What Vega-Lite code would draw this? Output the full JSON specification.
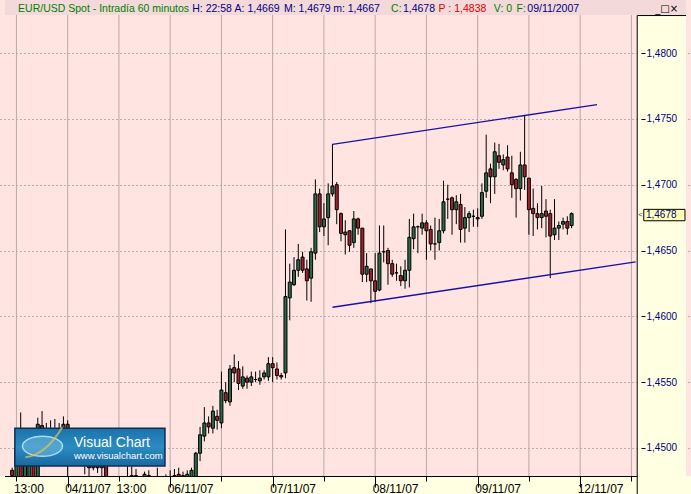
{
"$schema": "https://vega.github.io/schema/vega-lite/v6.json",
"width": 691, "height": 476,
"autosize": {"type": "none"},
"padding": {"left": 0, "top": 0, "right": 0, "bottom": 18},
"background": "#FFFFE1",
"config": {"view": {"fill": "#FFE4E1", "stroke": null}},
"datasets": {
"vgrid": [{"n":0},{"n":12},{"n":24},{"n":36},{"n":48},{"n":60},{"n":72},{"n":84},{"n":96},{"n":108},{"n":120},{"n":132},{"n":144}],
"candles": [
{"n":-1,"o":1.4483,"h":1.4485,"l":1.4475,"c":1.4479},
{"n":0,"o":1.4472,"h":1.4505,"l":1.4470,"c":1.4500},
{"n":1,"o":1.4505,"h":1.4527,"l":1.4470,"c":1.4474},
{"n":2,"o":1.4474,"h":1.4505,"l":1.4470,"c":1.4498},
{"n":3,"o":1.4478,"h":1.4510,"l":1.4472,"c":1.4505},
{"n":4,"o":1.4505,"h":1.4510,"l":1.4470,"c":1.4476},
{"n":5,"o":1.4476,"h":1.4523,"l":1.4472,"c":1.4518},
{"n":6,"o":1.4517,"h":1.4528,"l":1.4495,"c":1.4505},
{"n":7,"o":1.4505,"h":1.4519,"l":1.4490,"c":1.4500},
{"n":8,"o":1.4500,"h":1.4521,"l":1.4495,"c":1.4506},
{"n":9,"o":1.4506,"h":1.4522,"l":1.4496,"c":1.4502},
{"n":10,"o":1.4502,"h":1.4519,"l":1.4497,"c":1.4505},
{"n":11,"o":1.4495,"h":1.4524,"l":1.4490,"c":1.4518},
{"n":12,"o":1.4518,"h":1.4521,"l":1.4478,"c":1.4492},
{"n":13,"o":1.4492,"h":1.4505,"l":1.4488,"c":1.4500},
{"n":14,"o":1.4500,"h":1.4506,"l":1.4490,"c":1.4496},
{"n":15,"o":1.4496,"h":1.4503,"l":1.4489,"c":1.4493},
{"n":16,"o":1.4493,"h":1.4500,"l":1.4480,"c":1.4491},
{"n":17,"o":1.4491,"h":1.4496,"l":1.4478,"c":1.4485},
{"n":18,"o":1.4485,"h":1.4494,"l":1.4483,"c":1.4490},
{"n":19,"o":1.4490,"h":1.4493,"l":1.4481,"c":1.4485},
{"n":20,"o":1.4485,"h":1.4495,"l":1.4478,"c":1.4488},
{"n":21,"o":1.4488,"h":1.4494,"l":1.4470,"c":1.4474},
{"n":22,"o":1.4474,"h":1.4477,"l":1.4460,"c":1.4466},
{"n":23,"o":1.4466,"h":1.4472,"l":1.4455,"c":1.4462},
{"n":24,"o":1.4462,"h":1.4475,"l":1.4458,"c":1.4468},
{"n":25,"o":1.4468,"h":1.4476,"l":1.4460,"c":1.4466},
{"n":26,"o":1.4466,"h":1.4486,"l":1.4460,"c":1.4470},
{"n":27,"o":1.4470,"h":1.4487,"l":1.4465,"c":1.4479},
{"n":28,"o":1.4479,"h":1.4484,"l":1.4468,"c":1.4472},
{"n":29,"o":1.4472,"h":1.4476,"l":1.4462,"c":1.4470},
{"n":30,"o":1.4470,"h":1.4482,"l":1.4465,"c":1.4480},
{"n":31,"o":1.4479,"h":1.4483,"l":1.4468,"c":1.4474},
{"n":32,"o":1.4474,"h":1.4477,"l":1.4464,"c":1.4470},
{"n":33,"o":1.4470,"h":1.4485,"l":1.4465,"c":1.4473},
{"n":34,"o":1.4473,"h":1.4477,"l":1.4466,"c":1.4471},
{"n":35,"o":1.4471,"h":1.4480,"l":1.4467,"c":1.4474},
{"n":36,"o":1.4474,"h":1.4483,"l":1.4466,"c":1.4472},
{"n":37,"o":1.4472,"h":1.4484,"l":1.4468,"c":1.4479},
{"n":38,"o":1.4480,"h":1.4485,"l":1.4470,"c":1.4476},
{"n":39,"o":1.4476,"h":1.4482,"l":1.4472,"c":1.4479},
{"n":40,"o":1.4478,"h":1.4483,"l":1.4474,"c":1.4480},
{"n":41,"o":1.4476,"h":1.4485,"l":1.4472,"c":1.4483},
{"n":42,"o":1.4477,"h":1.4497,"l":1.4474,"c":1.4496},
{"n":43,"o":1.4496,"h":1.4516,"l":1.4490,"c":1.4510},
{"n":44,"o":1.4509,"h":1.4531,"l":1.4505,"c":1.4519},
{"n":45,"o":1.4519,"h":1.4524,"l":1.4511,"c":1.4516},
{"n":46,"o":1.4515,"h":1.4532,"l":1.4511,"c":1.4528},
{"n":47,"o":1.4524,"h":1.4529,"l":1.4514,"c":1.4521},
{"n":48,"o":1.4519,"h":1.4558,"l":1.4515,"c":1.4544},
{"n":49,"o":1.4542,"h":1.4550,"l":1.4534,"c":1.4536},
{"n":50,"o":1.4535,"h":1.4563,"l":1.4532,"c":1.4560},
{"n":51,"o":1.4561,"h":1.4571,"l":1.4550,"c":1.4557},
{"n":52,"o":1.4560,"h":1.4566,"l":1.4544,"c":1.4549},
{"n":53,"o":1.4547,"h":1.4562,"l":1.4545,"c":1.4554},
{"n":54,"o":1.4553,"h":1.4555,"l":1.4545,"c":1.4550},
{"n":55,"o":1.4550,"h":1.4558,"l":1.4547,"c":1.4554},
{"n":56,"o":1.4552,"h":1.4558,"l":1.4550,"c":1.4552},
{"n":57,"o":1.4551,"h":1.4559,"l":1.4548,"c":1.4553},
{"n":58,"o":1.4554,"h":1.4559,"l":1.4552,"c":1.4557},
{"n":59,"o":1.4554,"h":1.4569,"l":1.4551,"c":1.4564},
{"n":60,"o":1.4564,"h":1.4569,"l":1.4550,"c":1.4561},
{"n":61,"o":1.4560,"h":1.4565,"l":1.4552,"c":1.4555},
{"n":62,"o":1.4555,"h":1.4557,"l":1.4552,"c":1.4554},
{"n":63,"o":1.4557,"h":1.4666,"l":1.4553,"c":1.4615},
{"n":64,"o":1.4614,"h":1.4640,"l":1.4597,"c":1.4626},
{"n":65,"o":1.4624,"h":1.4645,"l":1.4623,"c":1.4635},
{"n":66,"o":1.4635,"h":1.4655,"l":1.4630,"c":1.4643},
{"n":67,"o":1.4645,"h":1.4649,"l":1.4633,"c":1.4635},
{"n":68,"o":1.4636,"h":1.4643,"l":1.4612,"c":1.4627},
{"n":69,"o":1.4629,"h":1.4652,"l":1.4611,"c":1.4649},
{"n":70,"o":1.4648,"h":1.4704,"l":1.4643,"c":1.4693},
{"n":71,"o":1.4693,"h":1.4697,"l":1.4664,"c":1.4668},
{"n":72,"o":1.4668,"h":1.4686,"l":1.4661,"c":1.4674},
{"n":73,"o":1.4675,"h":1.4701,"l":1.4654,"c":1.4693},
{"n":74,"o":1.4693,"h":1.4731,"l":1.4691,"c":1.4699},
{"n":75,"o":1.4700,"h":1.4702,"l":1.4670,"c":1.4681},
{"n":76,"o":1.4678,"h":1.4679,"l":1.4657,"c":1.4663},
{"n":77,"o":1.4662,"h":1.4673,"l":1.4647,"c":1.4664},
{"n":78,"o":1.4665,"h":1.4665,"l":1.4649,"c":1.4654},
{"n":79,"o":1.4656,"h":1.4680,"l":1.4652,"c":1.4674},
{"n":80,"o":1.4674,"h":1.4675,"l":1.4662,"c":1.4667},
{"n":81,"o":1.4667,"h":1.4667,"l":1.4626,"c":1.4632},
{"n":82,"o":1.4632,"h":1.4648,"l":1.4626,"c":1.4638},
{"n":83,"o":1.4636,"h":1.4636,"l":1.4610,"c":1.4627},
{"n":84,"o":1.4627,"h":1.4648,"l":1.4611,"c":1.4619},
{"n":85,"o":1.4620,"h":1.4669,"l":1.4619,"c":1.4648},
{"n":86,"o":1.4649,"h":1.4669,"l":1.4641,"c":1.4649},
{"n":87,"o":1.4650,"h":1.4652,"l":1.4624,"c":1.4640},
{"n":88,"o":1.4640,"h":1.4643,"l":1.4630,"c":1.4632},
{"n":89,"o":1.4633,"h":1.4640,"l":1.4627,"c":1.4633},
{"n":90,"o":1.4631,"h":1.4638,"l":1.4623,"c":1.4627},
{"n":91,"o":1.4627,"h":1.4643,"l":1.4621,"c":1.4635},
{"n":92,"o":1.4635,"h":1.4674,"l":1.4622,"c":1.4660},
{"n":93,"o":1.4659,"h":1.4678,"l":1.4651,"c":1.4668},
{"n":94,"o":1.4668,"h":1.4669,"l":1.4648,"c":1.4668},
{"n":95,"o":1.4667,"h":1.4678,"l":1.4662,"c":1.4671},
{"n":96,"o":1.4671,"h":1.4673,"l":1.4643,"c":1.4665},
{"n":97,"o":1.4666,"h":1.4669,"l":1.4650,"c":1.4655},
{"n":98,"o":1.4655,"h":1.4675,"l":1.4643,"c":1.4655},
{"n":99,"o":1.4656,"h":1.4674,"l":1.4650,"c":1.4665},
{"n":100,"o":1.4665,"h":1.4703,"l":1.4663,"c":1.4687},
{"n":101,"o":1.4689,"h":1.4700,"l":1.4674,"c":1.4689},
{"n":102,"o":1.4690,"h":1.4691,"l":1.4662,"c":1.4681},
{"n":103,"o":1.4681,"h":1.4692,"l":1.4670,"c":1.4687},
{"n":104,"o":1.4685,"h":1.4693,"l":1.4656,"c":1.4666},
{"n":105,"o":1.4667,"h":1.4683,"l":1.4656,"c":1.4675},
{"n":106,"o":1.4675,"h":1.4680,"l":1.4664,"c":1.4678},
{"n":107,"o":1.4676,"h":1.4681,"l":1.4668,"c":1.4676},
{"n":108,"o":1.4675,"h":1.4682,"l":1.4668,"c":1.4674},
{"n":109,"o":1.4676,"h":1.4701,"l":1.4674,"c":1.4694},
{"n":110,"o":1.4695,"h":1.4738,"l":1.4690,"c":1.4709},
{"n":111,"o":1.4712,"h":1.4716,"l":1.4686,"c":1.4706},
{"n":112,"o":1.4706,"h":1.4732,"l":1.4693,"c":1.4725},
{"n":113,"o":1.4722,"h":1.4731,"l":1.4712,"c":1.4717},
{"n":114,"o":1.4715,"h":1.4723,"l":1.4711,"c":1.4719},
{"n":115,"o":1.4721,"h":1.4730,"l":1.4710,"c":1.4712},
{"n":116,"o":1.4709,"h":1.4722,"l":1.4690,"c":1.4700},
{"n":117,"o":1.4704,"h":1.4705,"l":1.4675,"c":1.4697},
{"n":118,"o":1.4697,"h":1.4725,"l":1.4688,"c":1.4715},
{"n":119,"o":1.4715,"h":1.4753,"l":1.4696,"c":1.4706},
{"n":120,"o":1.4705,"h":1.4705,"l":1.4662,"c":1.4681},
{"n":121,"o":1.4682,"h":1.4697,"l":1.4661,"c":1.4678},
{"n":122,"o":1.4678,"h":1.4686,"l":1.4666,"c":1.4675},
{"n":123,"o":1.4675,"h":1.4699,"l":1.4667,"c":1.4678},
{"n":124,"o":1.4680,"h":1.4689,"l":1.4660,"c":1.4676},
{"n":125,"o":1.4678,"h":1.4681,"l":1.4629,"c":1.4661},
{"n":126,"o":1.4662,"h":1.4689,"l":1.4658,"c":1.4667},
{"n":127,"o":1.4667,"h":1.4672,"l":1.4658,"c":1.4669},
{"n":128,"o":1.4670,"h":1.4675,"l":1.4666,"c":1.4672},
{"n":129,"o":1.4672,"h":1.4676,"l":1.4662,"c":1.4667},
{"n":130,"o":1.4669,"h":1.4679,"l":1.4667,"c":1.4678}
],
"channel": [
{"g":"upper","n":74,"p":1.47307},
{"g":"upper","n":135.95,"p":1.47608},
{"g":"lower","n":74,"p":1.46069},
{"g":"lower","n":145.0,"p":1.46413}
]
},
"layer": [
{
"data": {"name": "vgrid"},
"mark": {"type": "rule", "color": "#B9A9A9", "strokeWidth": 1, "clip": true},
"encoding": {
"x": {"field": "n", "type": "quantitative", "title": null,
"scale": {"domain": [-2.677, 156.785], "nice": false, "zero": false},
"axis": {"orient": "bottom", "values": [0,12,24,36,48,60,72,84,96,108,120,132,144],
"labelExpr": "datum.value == 0 || datum.value == 24 ? '13:00' : datum.value == 12 ? '04/11/07' : datum.value == 36 ? '06/11/07' : datum.value == 60 ? '07/11/07' : datum.value == 84 ? '08/11/07' : datum.value == 108 ? '09/11/07' : datum.value == 132 ? '12/11/07' : ''",
"grid": false,
"domain": false, "tickColor": "#000000", "tickWidth": 1,
"tickSize": {"condition": {"test": "indexof([12,36,60,84,108,132], datum.value) >= 0", "value": 11}, "value": 5},
"labelPadding": {"condition": {"test": "indexof([12,36,60,84,108,132], datum.value) >= 0", "value": -4}, "value": 2},
"labelAlign": "left", "labelBaseline": "top", "labelFont": "Liberation Sans", "labelFontSize": 12,
"labelColor": "#000000", "labelOffset": -3, "labelFlush": false, "labelOverlap": false, "labelBound": false,
"title": null, "zindex": 0}},
"y": {"datum": 1.44787, "type": "quantitative",
"scale": {"domain": [1.44787, 1.48403], "nice": false, "zero": false},
"axis": {"orient": "left", "values": [1.45,1.455,1.46,1.465,1.47,1.475,1.48],
"grid": true, "gridColor": "#7a7a7a", "gridDash": [1, 3], "gridWidth": 1,
"labels": false, "ticks": false, "domain": false, "title": null, "zindex": 0}},
"y2": {"datum": 1.48289}
}
},
{
"data": {"name": "candles"},
"mark": {"type": "rule", "color": "#000000", "strokeWidth": 1, "clip": true},
"encoding": {
"x": {"field": "n", "type": "quantitative", "title": null,
"scale": {"domain": [-2.677, 156.785], "nice": false, "zero": false}, "axis": null},
"y": {"field": "l", "type": "quantitative", "title": null,
"scale": {"domain": [1.44787, 1.48403], "nice": false, "zero": false}, "axis": null},
"y2": {"field": "h"}
}
},
{
"data": {"name": "candles"},
"mark": {"type": "bar", "width": 3, "stroke": "#000000", "strokeWidth": 1, "clip": true},
"encoding": {
"x": {"field": "n", "type": "quantitative", "title": null,
"scale": {"domain": [-2.677, 156.785], "nice": false, "zero": false}, "axis": null},
"y": {"field": "o", "type": "quantitative", "title": null,
"scale": {"domain": [1.44787, 1.48403], "nice": false, "zero": false},
"axis": {"orient": "right", "offset": -50, "values": [1.45,1.455,1.46,1.465,1.47,1.475,1.48],
"labelExpr": "replace(format(datum.value, '.4f'), '.', ',')",
"grid": false, "domain": false, "tickColor": "#000000", "tickSize": 4, "tickWidth": 1,
"labelFont": "Liberation Sans", "labelFontSize": 10, "labelColor": "#000080", "labelPadding": 1,
"labelBaseline": "middle", "labelFlush": false, "labelOverlap": false, "labelBound": false,
"title": null, "zindex": 1}},
"y2": {"field": "c"},
"fill": {"condition": {"test": "datum.c >= datum.o", "value": "#2B6A48"}, "value": "#A3212B"}
}
},
{
"data": {"name": "channel"},
"mark": {"type": "line", "color": "#1414A8", "strokeWidth": 1.3, "clip": true},
"encoding": {
"x": {"field": "n", "type": "quantitative", "title": null,
"scale": {"domain": [-2.677, 156.785], "nice": false, "zero": false}, "axis": null},
"y": {"field": "p", "type": "quantitative", "title": null,
"scale": {"domain": [1.44787, 1.48403], "nice": false, "zero": false}, "axis": null},
"detail": {"field": "g"}
}
},
{
"data": {"values": [{}]},
"mark": {"type": "rect", "fill": "#F3D9D9"},
"encoding": {
"x": {"datum": -2.677, "type": "quantitative", "scale": {"domain": [-2.677, 156.785], "nice": false, "zero": false}, "axis": null},
"x2": {"datum": 156.785},
"y": {"datum": 1.48289, "type": "quantitative", "scale": {"domain": [1.44787, 1.48403], "nice": false, "zero": false}, "axis": null},
"y2": {"datum": 1.48403}
}
},
{
"data": {"values": [{}]},
"mark": {"type": "rect", "fill": "#FFFFE1"},
"encoding": {
"x": {"datum": 145.36, "type": "quantitative", "scale": {"domain": [-2.677, 156.785], "nice": false, "zero": false}, "axis": null},
"x2": {"datum": 156.785},
"y": {"datum": 1.44787, "type": "quantitative", "scale": {"domain": [1.44787, 1.48403], "nice": false, "zero": false}, "axis": null},
"y2": {"datum": 1.48289}
}
},
{
"data": {"values": [{}]},
"mark": {"type": "rule", "color": "#000000", "strokeWidth": 1, "clip": false},
"encoding": {
"x": {"datum": -2.677, "type": "quantitative", "scale": {"domain": [-2.677, 156.785], "nice": false, "zero": false}, "axis": null},
"x2": {"datum": 145.36},
"y": {"datum": 1.44783, "type": "quantitative", "scale": {"domain": [1.44787, 1.48403], "nice": false, "zero": false}, "axis": null}
}
},
{
"data": {"values": [{}]},
"mark": {"type": "rule", "color": "#000000", "strokeWidth": 1, "clip": false},
"encoding": {
"x": {"datum": 145.36, "type": "quantitative", "scale": {"domain": [-2.677, 156.785], "nice": false, "zero": false}, "axis": null},
"y": {"datum": 1.44650, "type": "quantitative", "scale": {"domain": [1.44787, 1.48403], "nice": false, "zero": false}, "axis": null},
"y2": {"datum": 1.48285}
}
},
{
"data": {"values": [{}]},
"mark": {"type": "rule", "color": "#000000", "strokeWidth": 1, "clip": false},
"encoding": {
"x": {"datum": 145.36, "type": "quantitative", "scale": {"domain": [-2.677, 156.785], "nice": false, "zero": false}, "axis": null},
"x2": {"datum": 156.785},
"y": {"datum": 1.48285, "type": "quantitative", "scale": {"domain": [1.44787, 1.48403], "nice": false, "zero": false}, "axis": null}
}
},
{
"data": {"values": [{}]},
"mark": {"type": "rect", "fill": "#FFFFB8", "stroke": "#000000", "strokeWidth": 1},
"encoding": {
"x": {"datum": 146.9, "type": "quantitative", "scale": {"domain": [-2.677, 156.785], "nice": false, "zero": false}, "axis": null},
"x2": {"datum": 156.55},
"y": {"datum": 1.46726, "type": "quantitative", "scale": {"domain": [1.44787, 1.48403], "nice": false, "zero": false}, "axis": null},
"y2": {"datum": 1.468126}
}
},
{
"data": {"values": [{}]},
"mark": {"type": "text", "align": "left", "baseline": "middle", "font": "Liberation Sans", "fontSize": 10, "color": "#000080"},
"encoding": {
"x": {"datum": 147.4, "type": "quantitative", "scale": {"domain": [-2.677, 156.785], "nice": false, "zero": false}, "axis": null},
"y": {"datum": 1.46769, "type": "quantitative", "scale": {"domain": [1.44787, 1.48403], "nice": false, "zero": false}, "axis": null},
"text": {"value": "1,4678"}
}
},
{
"data": {"values": [{}]},
"mark": {"type": "text", "align": "left", "baseline": "middle", "font": "Liberation Sans", "fontSize": 8, "color": "#444444"},
"encoding": {
"x": {"datum": 145.6, "type": "quantitative", "scale": {"domain": [-2.677, 156.785], "nice": false, "zero": false}, "axis": null},
"y": {"datum": 1.46769, "type": "quantitative", "scale": {"domain": [1.44787, 1.48403], "nice": false, "zero": false}, "axis": null},
"text": {"value": "<"}
}
},
{
"data": {"values": [{}]},
"mark": {"type": "rect", "stroke": "#0C2F55", "strokeWidth": 1.5,
"fill": {"gradient": "linear", "x1": 0, "y1": 0, "x2": 0, "y2": 1, "stops": [{"offset": 0, "color": "#1C72AB"}, {"offset": 0.5, "color": "#2B8CC2"}, {"offset": 1, "color": "#1A68A0"}]}},
"encoding": {
"x": {"datum": -0.37, "type": "quantitative", "scale": {"domain": [-2.677, 156.785], "nice": false, "zero": false}, "axis": null},
"x2": {"datum": 34.78},
"y": {"datum": 1.44863, "type": "quantitative", "scale": {"domain": [1.44787, 1.48403], "nice": false, "zero": false}, "axis": null},
"y2": {"datum": 1.4515}
}
},
{
"data": {"values": [{}]},
"mark": {"type": "point", "shape": "M -1 0 A 1 0.5 0 1 1 1 0 A 1 0.5 0 1 1 -1 0 Z", "size": 1600, "filled": true, "fill": "#9FD6F2", "fillOpacity": 0.35, "stroke": "#A8DDF7", "strokeWidth": 1.5},
"encoding": {
"x": {"datum": 6.1, "type": "quantitative", "scale": {"domain": [-2.677, 156.785], "nice": false, "zero": false}, "axis": null},
"y": {"datum": 1.45013, "type": "quantitative", "scale": {"domain": [1.44787, 1.48403], "nice": false, "zero": false}, "axis": null}
}
},
{
"data": {"values": [{}]},
"mark": {"type": "point", "shape": "M -0.9 0.55 Q 0.1 0.45 0.95 -0.95", "size": 1600, "filled": false, "stroke": "#E8C34A", "strokeWidth": 2},
"encoding": {
"x": {"datum": 6.3, "type": "quantitative", "scale": {"domain": [-2.677, 156.785], "nice": false, "zero": false}, "axis": null},
"y": {"datum": 1.45013, "type": "quantitative", "scale": {"domain": [1.44787, 1.48403], "nice": false, "zero": false}, "axis": null}
}
},
{
"data": {"values": [{}]},
"mark": {"type": "text", "align": "left", "baseline": "alphabetic", "font": "Liberation Sans", "fontSize": 14, "color": "#FFFFFF"},
"encoding": {
"x": {"datum": 13.48, "type": "quantitative", "scale": {"domain": [-2.677, 156.785], "nice": false, "zero": false}, "axis": null},
"y": {"datum": 1.45007, "type": "quantitative", "scale": {"domain": [1.44787, 1.48403], "nice": false, "zero": false}, "axis": null},
"text": {"value": "Visual Chart"}
}
},
{
"data": {"values": [{}]},
"mark": {"type": "text", "align": "left", "baseline": "alphabetic", "font": "Liberation Sans", "fontSize": 9.5, "color": "#FFFFFF"},
"encoding": {
"x": {"datum": 13.48, "type": "quantitative", "scale": {"domain": [-2.677, 156.785], "nice": false, "zero": false}, "axis": null},
"y": {"datum": 1.44916, "type": "quantitative", "scale": {"domain": [1.44787, 1.48403], "nice": false, "zero": false}, "axis": null},
"text": {"value": "www.visualchart.com"}
}
},
{
"data": {"values": [{}]},
"mark": {"type": "text", "align": "left", "baseline": "alphabetic", "font": "Liberation Sans", "fontSize": 10.5, "color": "#008000"},
"encoding": {
"x": {"datum": 0.39, "type": "quantitative", "scale": {"domain": [-2.677, 156.785], "nice": false, "zero": false}, "axis": null},
"y": {"datum": 1.48311, "type": "quantitative", "scale": {"domain": [1.44787, 1.48403], "nice": false, "zero": false}, "axis": null},
"text": {"value": "EUR/USD Spot - Intradía 60 minutos"}
}
},
{
"data": {"values": [{}]},
"mark": {"type": "text", "align": "left", "baseline": "alphabetic", "font": "Liberation Sans", "fontSize": 10.5, "color": "#000080"},
"encoding": {
"x": {"datum": 41.17, "type": "quantitative", "scale": {"domain": [-2.677, 156.785], "nice": false, "zero": false}, "axis": null},
"y": {"datum": 1.48311, "type": "quantitative", "scale": {"domain": [1.44787, 1.48403], "nice": false, "zero": false}, "axis": null},
"text": {"value": "H: 22:58"}
}
},
{
"data": {"values": [{}]},
"mark": {"type": "text", "align": "left", "baseline": "alphabetic", "font": "Liberation Sans", "fontSize": 10.5, "color": "#000080"},
"encoding": {
"x": {"datum": 51.09, "type": "quantitative", "scale": {"domain": [-2.677, 156.785], "nice": false, "zero": false}, "axis": null},
"y": {"datum": 1.48311, "type": "quantitative", "scale": {"domain": [1.44787, 1.48403], "nice": false, "zero": false}, "axis": null},
"text": {"value": "A: 1,4669"}
}
},
{
"data": {"values": [{}]},
"mark": {"type": "text", "align": "left", "baseline": "alphabetic", "font": "Liberation Sans", "fontSize": 10.5, "color": "#000080"},
"encoding": {
"x": {"datum": 62.63, "type": "quantitative", "scale": {"domain": [-2.677, 156.785], "nice": false, "zero": false}, "axis": null},
"y": {"datum": 1.48311, "type": "quantitative", "scale": {"domain": [1.44787, 1.48403], "nice": false, "zero": false}, "axis": null},
"text": {"value": "M: 1,4679"}
}
},
{
"data": {"values": [{}]},
"mark": {"type": "text", "align": "left", "baseline": "alphabetic", "font": "Liberation Sans", "fontSize": 10.5, "color": "#000080"},
"encoding": {
"x": {"datum": 74.17, "type": "quantitative", "scale": {"domain": [-2.677, 156.785], "nice": false, "zero": false}, "axis": null},
"y": {"datum": 1.48311, "type": "quantitative", "scale": {"domain": [1.44787, 1.48403], "nice": false, "zero": false}, "axis": null},
"text": {"value": "m: 1,4667"}
}
},
{
"data": {"values": [{}]},
"mark": {"type": "text", "align": "left", "baseline": "alphabetic", "font": "Liberation Sans", "fontSize": 10.5, "color": "#008000"},
"encoding": {
"x": {"datum": 87.72, "type": "quantitative", "scale": {"domain": [-2.677, 156.785], "nice": false, "zero": false}, "axis": null},
"y": {"datum": 1.48311, "type": "quantitative", "scale": {"domain": [1.44787, 1.48403], "nice": false, "zero": false}, "axis": null},
"text": {"value": "C:"}
}
},
{
"data": {"values": [{}]},
"mark": {"type": "text", "align": "left", "baseline": "alphabetic", "font": "Liberation Sans", "fontSize": 10.5, "color": "#000080"},
"encoding": {
"x": {"datum": 90.5, "type": "quantitative", "scale": {"domain": [-2.677, 156.785], "nice": false, "zero": false}, "axis": null},
"y": {"datum": 1.48311, "type": "quantitative", "scale": {"domain": [1.44787, 1.48403], "nice": false, "zero": false}, "axis": null},
"text": {"value": "1,4678"}
}
},
{
"data": {"values": [{}]},
"mark": {"type": "text", "align": "left", "baseline": "alphabetic", "font": "Liberation Sans", "fontSize": 10.5, "color": "#E00000"},
"encoding": {
"x": {"datum": 98.86, "type": "quantitative", "scale": {"domain": [-2.677, 156.785], "nice": false, "zero": false}, "axis": null},
"y": {"datum": 1.48311, "type": "quantitative", "scale": {"domain": [1.44787, 1.48403], "nice": false, "zero": false}, "axis": null},
"text": {"value": "P : 1,4838"}
}
},
{
"data": {"values": [{}]},
"mark": {"type": "text", "align": "left", "baseline": "alphabetic", "font": "Liberation Sans", "fontSize": 10.5, "color": "#008000"},
"encoding": {
"x": {"datum": 111.78, "type": "quantitative", "scale": {"domain": [-2.677, 156.785], "nice": false, "zero": false}, "axis": null},
"y": {"datum": 1.48311, "type": "quantitative", "scale": {"domain": [1.44787, 1.48403], "nice": false, "zero": false}, "axis": null},
"text": {"value": "V: 0"}
}
},
{
"data": {"values": [{}]},
"mark": {"type": "text", "align": "left", "baseline": "alphabetic", "font": "Liberation Sans", "fontSize": 10.5, "color": "#008000"},
"encoding": {
"x": {"datum": 117.09, "type": "quantitative", "scale": {"domain": [-2.677, 156.785], "nice": false, "zero": false}, "axis": null},
"y": {"datum": 1.48311, "type": "quantitative", "scale": {"domain": [1.44787, 1.48403], "nice": false, "zero": false}, "axis": null},
"text": {"value": "F:"}
}
},
{
"data": {"values": [{}]},
"mark": {"type": "text", "align": "left", "baseline": "alphabetic", "font": "Liberation Sans", "fontSize": 10.5, "color": "#000080"},
"encoding": {
"x": {"datum": 119.63, "type": "quantitative", "scale": {"domain": [-2.677, 156.785], "nice": false, "zero": false}, "axis": null},
"y": {"datum": 1.48311, "type": "quantitative", "scale": {"domain": [1.44787, 1.48403], "nice": false, "zero": false}, "axis": null},
"text": {"value": "09/11/2007"}
}
},
{
"data": {"values": [{}]},
"mark": {"type": "text", "align": "left", "baseline": "alphabetic", "font": "DejaVu Sans", "fontSize": 10, "color": "#000000"},
"encoding": {
"x": {"datum": 149.6, "type": "quantitative", "scale": {"domain": [-2.677, 156.785], "nice": false, "zero": false}, "axis": null},
"y": {"datum": 1.48311, "type": "quantitative", "scale": {"domain": [1.44787, 1.48403], "nice": false, "zero": false}, "axis": null},
"text": {"value": "_□×"}
}
}
],
"resolve": {"axis": {"x": "independent", "y": "independent"}}
}
